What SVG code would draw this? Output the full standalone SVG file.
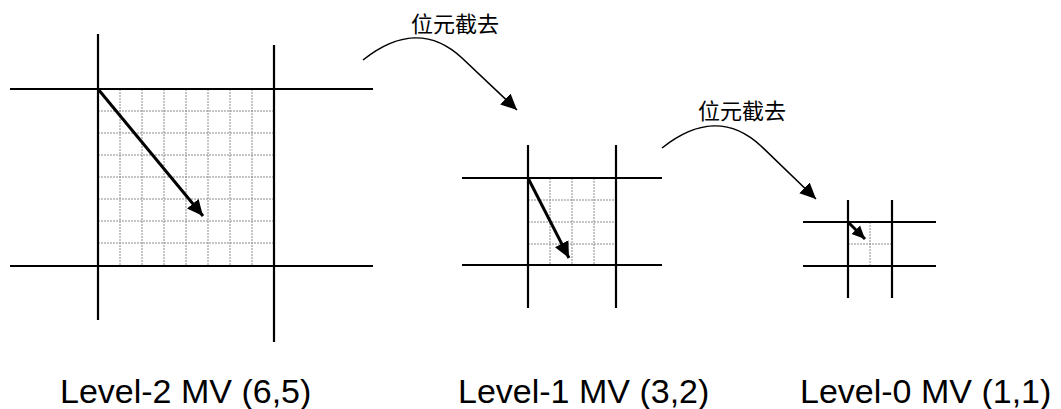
<svg xmlns="http://www.w3.org/2000/svg" width="1061" height="409" viewBox="0 0 1061 409">
<style>
.g{stroke:#000;stroke-width:2.2;fill:none}
.d{stroke:#8c8c8c;stroke-width:1;stroke-dasharray:2,1;fill:none}
.mv{stroke:#000;stroke-width:3;fill:none}
.cv{stroke:#000;stroke-width:1.6;fill:none}
.lbl{font-family:"Liberation Sans",Arial,sans-serif;font-size:34px;fill:#000}
.cjk{font-family:"Noto Sans CJK TC","Noto Sans CJK SC",sans-serif;font-size:22px;fill:#000}
</style>
<defs>
<marker id="ah" markerUnits="userSpaceOnUse" markerWidth="17" markerHeight="17" refX="16" refY="8.5" orient="auto" viewBox="0 0 17 17"><path d="M0,1 L16,8.5 L0,16 z" fill="#000"/></marker>
<marker id="ahs" markerUnits="userSpaceOnUse" markerWidth="14" markerHeight="14" refX="13" refY="7" orient="auto" viewBox="0 0 14 14"><path d="M0,1 L13,7 L0,13 z" fill="#000"/></marker>
</defs>
<rect width="1061" height="409" fill="#fff"/>

<g id="level2">
<path class="d" d="M120,89V266M142,89V266M164,89V266M186,89V266M208,89V266M230,89V266M252,89V266M98,111H274M98,133H274M98,155H274M98,177H274M98,199H274M98,221H274M98,243H274"/>
<path class="g" d="M98,34V320M274,45V342M10,89H373M10,266H373"/>
<line class="mv" x1="98" y1="89" x2="203" y2="216" marker-end="url(#ah)"/>
<text class="lbl" x="60" y="403">Level-2 MV (6,5)</text>
</g>

<g id="level1">
<path class="d" d="M550,178V265M572,178V265M594,178V265M528,200H616M528,222H616M528,244H616"/>
<path class="g" d="M528,145V308M616,145V308M462,178H662M462,265H662"/>
<line class="mv" x1="528" y1="178" x2="569" y2="258" marker-end="url(#ah)"/>
<text class="lbl" x="458" y="403">Level-1 MV (3,2)</text>
</g>

<g id="level0">
<path class="d" d="M870,222V266M848,244H892"/>
<path class="g" d="M848,200V298M892,200V298M803,222H936M803,266H936"/>
<line class="mv" x1="848" y1="222" x2="865" y2="239" marker-end="url(#ahs)"/>
<text class="lbl" x="800" y="403">Level-0 MV (1,1)</text>
</g>

<g id="connectors">
<path class="cv" d="M363,60 C398,32 432,30 462,58 L517,110" marker-end="url(#ah)"/>
<path class="cv" d="M662,148 C697,120 731,118 761,146 L816,199" marker-end="url(#ah)"/>
</g>
<g id="labels">
<text class="cjk" x="411" y="32">位元截去</text>
<text class="cjk" x="698" y="119">位元截去</text>
</g>
</svg>
